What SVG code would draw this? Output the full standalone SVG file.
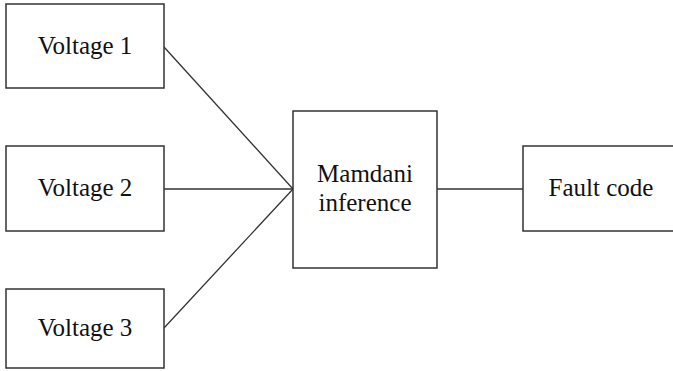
<svg xmlns="http://www.w3.org/2000/svg" width="673" height="371" viewBox="0 0 673 371">
<style>
.box{fill:#fff;stroke:#333;stroke-width:1.5}
text{font-family:'Liberation Serif','Times New Roman',serif;font-size:25px;fill:#111;text-anchor:middle}
.c{stroke:#333;stroke-width:1.3;fill:none}
</style>
<rect width="673" height="371" fill="#fff"/>
<g id="connectors">
<line class="c" x1="164" y1="47" x2="293" y2="189"/>
<line class="c" x1="164" y1="189" x2="293" y2="189"/>
<line class="c" x1="164" y1="328" x2="293" y2="189"/>
<line class="c" x1="437" y1="189" x2="523" y2="189"/>
</g>
<g id="v1"><rect class="box" x="6" y="4" width="158" height="84"/><text x="85" y="54">Voltage 1</text></g>
<g id="v2"><rect class="box" x="6" y="146" width="158" height="85"/><text x="85" y="196">Voltage 2</text></g>
<g id="v3"><rect class="box" x="6" y="289" width="158" height="79"/><text x="85" y="336">Voltage 3</text></g>
<g id="mamdani"><rect class="box" x="293" y="111" width="144" height="157"/><text x="365" y="182">Mamdani</text><text x="365" y="211">inference</text></g>
<g id="fault"><rect class="box" x="523" y="146" width="160" height="85"/><text x="601" y="196">Fault code</text></g>
</svg>
